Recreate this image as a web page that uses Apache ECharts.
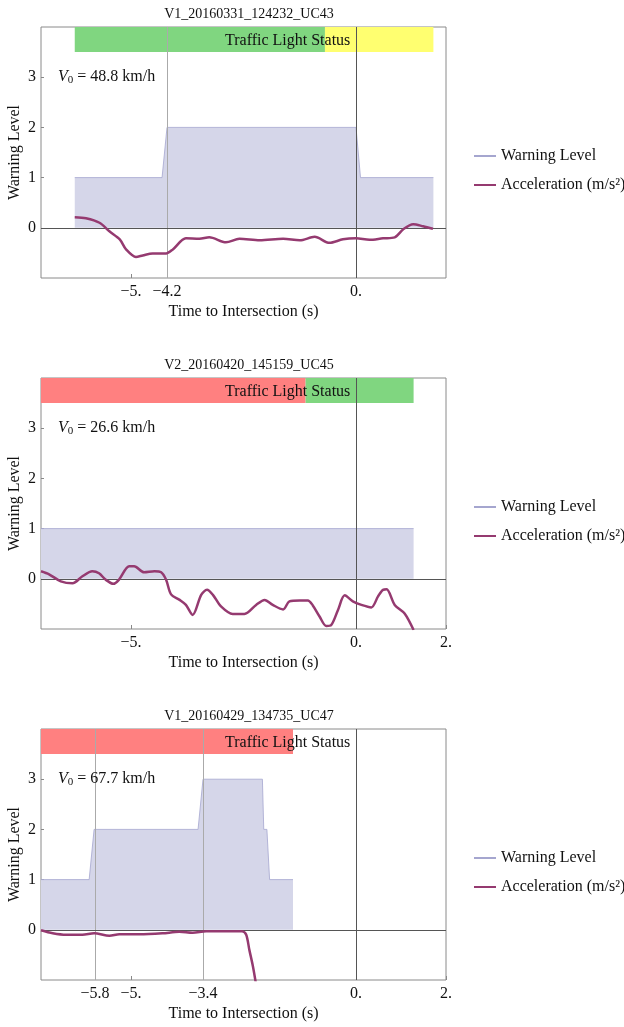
<!DOCTYPE html>
<html>
<head>
<meta charset="utf-8">
<script src="https://cdn.jsdelivr.net/npm/echarts@6/dist/echarts.min.js"></script>
<style>
  html, body { margin: 0; padding: 0; background: #fff; }
  #chart { width: 624px; height: 1027px; }
</style>
</head>
<body>
<div id="chart"></div>
<script>
// --- data ---
var titles = ["V1_20160331_124232_UC43", "V2_20160420_145159_UC45", "V1_20160429_134735_UC47"];
var speeds = ["48.8", "26.6", "67.7"];

// warning level steps [time, level]
var warn1 = [[-6.25, 1], [-4.31, 1], [-4.2, 2], [0, 2], [0.1, 1], [1.72, 1]];
var warn2 = [[-7, 1], [1.28, 1]];
var warn3 = [[-7, 1], [-5.93, 1], [-5.82, 2], [-3.51, 2], [-3.4, 3], [-2.08, 3], [-2.05, 2],
             [-1.98, 2], [-1.92, 1], [-1.4, 1]];

// acceleration [time, m/s2]
var acc1 = [[-6.25, 0.21], [-6.0, 0.19], [-5.7, 0.1], [-5.48, -0.07], [-5.25, -0.23], [-5.11, -0.43],
            [-4.89, -0.58], [-4.74, -0.55], [-4.52, -0.51], [-4.22, -0.51], [-4.07, -0.43], [-3.78, -0.21],
            [-3.48, -0.22], [-3.26, -0.19], [-2.89, -0.29], [-2.59, -0.22], [-2.14, -0.25], [-1.62, -0.22],
            [-1.25, -0.25], [-0.92, -0.18], [-0.59, -0.3], [-0.29, -0.23], [0, -0.21], [0.3, -0.24],
            [0.6, -0.21], [0.86, -0.19], [1.05, -0.03], [1.27, 0.07], [1.49, 0.03], [1.71, -0.02]];
var acc2 = [[-7, 0.15], [-6.82, 0.09], [-6.56, -0.05], [-6.3, -0.09], [-6.08, 0.05], [-5.86, 0.15],
            [-5.71, 0.11], [-5.56, -0.02], [-5.39, -0.1], [-5.27, -0.02], [-5.04, 0.25], [-4.93, 0.25],
            [-4.71, 0.13], [-4.48, 0.15], [-4.33, 0.13], [-4.22, -0.02], [-4.11, -0.31], [-3.92, -0.42],
            [-3.78, -0.52], [-3.63, -0.72], [-3.44, -0.32], [-3.31, -0.22], [-3.18, -0.32], [-3.0, -0.55],
            [-2.74, -0.7], [-2.48, -0.7], [-2.22, -0.52], [-2.03, -0.42], [-1.85, -0.52], [-1.62, -0.61],
            [-1.48, -0.45], [-1.25, -0.43], [-1.07, -0.43], [-0.96, -0.53], [-0.81, -0.75], [-0.66, -0.94],
            [-0.55, -0.92], [-0.4, -0.62], [-0.25, -0.33], [-0.07, -0.45], [0.12, -0.52], [0.34, -0.57],
            [0.49, -0.35], [0.6, -0.22], [0.68, -0.21], [0.86, -0.52], [1.08, -0.69], [1.28, -1.02]];
var acc3 = [[-7, -0.01], [-6.74, -0.07], [-6.44, -0.1], [-6.08, -0.1], [-5.82, -0.07], [-5.48, -0.12],
            [-5.26, -0.09], [-4.81, -0.09], [-4.3, -0.07], [-3.93, -0.04], [-3.63, -0.06], [-3.33, -0.03],
            [-2.89, -0.03], [-2.53, -0.03], [-2.44, -0.1], [-2.37, -0.4], [-2.29, -0.73], [-2.2, -1.2]];

// traffic light phases [start, end, colour]
var lights1 = [[-6.25, -0.69, "#80d680"], [-0.69, 1.72, "#ffff70"]];
var lights2 = [[-7, -1.12, "#ff8080"], [-1.12, 1.28, "#80d680"]];
var lights3 = [[-7, -1.4, "#ff8080"]];

// vertical grid lines and tick labels
var grid1 = [-4.2, 0];
var grid2 = [0];
var grid3 = [-5.8, -3.4, 0];
var xticks1 = [-5, -4.2, 0];
var xticks2 = [-5, 0, 2];
var xticks3 = [-5.8, -5, -3.4, 0, 2];
var yticks = [0, 1, 2, 3];

var warnSets = [warn1, warn2, warn3];
var accSets = [acc1, acc2, acc3];
var lightSets = [lights1, lights2, lights3];
var gridSets = [grid1, grid2, grid3];
var xtickSets = [xticks1, xticks2, xticks3];

var FONT = "Liberation Serif";
var STEP = 351;

function fmtX(v) {
  var s = String(Math.abs(v));
  if (Number.isInteger(v)) s += ".";
  return (v < 0 ? "\u2212" : "") + s;
}

var myChart = echarts.init(document.getElementById("chart"));

var option = {
  backgroundColor: "#fff",
  animation: false,
  textStyle: { fontFamily: FONT },
  title: [],
  legend: [],
  grid: [],
  xAxis: [],
  yAxis: [],
  series: [],
  graphic: []
};

for (var i = 0; i < 3; i++) {
  var off = i * STEP;
  option.title.push({
    text: titles[i],
    left: 244,
    top: 2 + off,
    textAlign: "center",
    textStyle: { fontFamily: FONT, fontSize: 14, fontWeight: "normal", color: "#111" }
  });
  option.grid.push({
    left: 41, top: 27 + off, width: 405, height: 251,
    containLabel: false, outerBoundsMode: "none",
    show: true, borderColor: "#8a8a8a", borderWidth: 1, backgroundColor: "transparent"
  });
  option.xAxis.push({
    type: "value", gridIndex: i, min: -7, max: 2,
    name: "Time to Intersection (s)", nameLocation: "middle", nameGap: 26,
    nameMoveOverlap: false,
    nameTextStyle: { fontFamily: FONT, fontSize: 16, color: "#111" },
    axisLine: { show: false, onZero: false },
    splitLine: { show: false },
    axisTick: { show: true, inside: true, length: 4, customValues: xtickSets[i], lineStyle: { color: "#888" } },
    axisLabel: { customValues: xtickSets[i], formatter: fmtX, margin: 6,
                 fontFamily: FONT, fontSize: 16, color: "#111" }
  });
  option.yAxis.push({
    type: "value", gridIndex: i, min: -1, max: 4, interval: 1,
    name: "Warning Level", nameLocation: "middle", nameGap: 18,
    nameMoveOverlap: false,
    nameTextStyle: { fontFamily: FONT, fontSize: 16, color: "#111" },
    axisLine: { show: false, onZero: false },
    splitLine: { show: false },
    axisTick: { show: true, inside: true, length: 3, customValues: yticks, lineStyle: { color: "#888" } },
    axisLabel: { customValues: yticks, margin: 5, fontFamily: FONT, fontSize: 16, color: "#111" }
  });
  option.legend.push({
    orient: "vertical", left: 468, top: 143 + off, itemGap: 13,
    itemWidth: 22, itemHeight: 15,
    itemStyle: { opacity: 0 },
    textStyle: { fontFamily: FONT, fontSize: 16, color: "#111" },
    data: ["Warning Level", "Acceleration (m/s\u00b2)"]
  });

  var gl = gridSets[i].map(function (g) {
    return { xAxis: g, lineStyle: { color: g === 0 ? "#555" : "#aaa", width: 1, type: "solid" } };
  });
  gl.push({ yAxis: 0, lineStyle: { color: "#555", width: 1, type: "solid" } });

  option.series.push({
    name: "lights" + i, type: "line", xAxisIndex: i, yAxisIndex: i, data: [],
    silent: true,
    markArea: {
      silent: true,
      data: lightSets[i].map(function (p) {
        return [{ xAxis: p[0], yAxis: 3.5, itemStyle: { color: p[2], opacity: 1 } }, { xAxis: p[1], yAxis: 4 }];
      })
    }
  });
  option.series.push({
    name: "Warning Level", type: "line", xAxisIndex: i, yAxisIndex: i,
    data: warnSets[i], symbol: "none", silent: true, z: 2,
    color: "#b8b9dc",
    lineStyle: { color: "#a5a6cf", width: 0.8 },
    areaStyle: { color: "#d5d6e9", opacity: 1 },
    markLine: { silent: true, symbol: "none", label: { show: false }, data: gl, z: 3 }
  });
  option.series.push({
    name: "Acceleration (m/s\u00b2)", type: "line", xAxisIndex: i, yAxisIndex: i,
    data: accSets[i], symbol: "none", smooth: 0.3, silent: true, z: 4,
    color: "#953a70",
    lineStyle: { color: "#953a70", width: 2.5 }
  });

  option.graphic.push({
    type: "text", left: 225, top: 33 + off, z: 10,
    style: { text: "Traffic Light Status", font: "16px '" + FONT + "'", fill: "#111" }
  });
  option.graphic.push({
    type: "text", left: 58, top: 68 + off, z: 10,
    style: {
      text: "{v|V}{s|0}{t| = " + speeds[i] + " km/h}",
      rich: {
        v: { fontFamily: FONT, fontSize: 16, fontStyle: "italic", fill: "#111", lineHeight: 19 },
        s: { fontFamily: FONT, fontSize: 11, fill: "#111", padding: [7, 0, 0, 0], lineHeight: 19 },
        t: { fontFamily: FONT, fontSize: 16, fill: "#111", lineHeight: 19 }
      }
    }
  });
}

myChart.setOption(option);
window.onresize = function () {
  myChart.resize();
};
</script>
</body>
</html>
